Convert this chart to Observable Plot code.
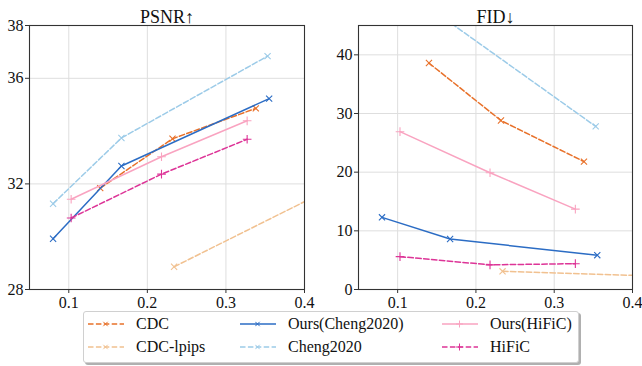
<!DOCTYPE html>
<html>
<head>
<meta charset="utf-8">
<script src="https://cdn.jsdelivr.net/npm/d3@7"></script>
<script src="https://cdn.jsdelivr.net/npm/@observablehq/plot@0.6"></script>
<style>
  html, body { margin: 0; padding: 0; background: #fff; }
  #wrap, #wrap * { font-family: "Liberation Serif", "Times New Roman", Times, serif !important; }
  #wrap { position: relative; width: 642px; height: 366px; }
  #left, #right { position: absolute; top: 0; }
  #left { left: 0; }
  #right { left: 320px; }
  #legend { position: absolute; left: 83px; top: 311px; width: 496px; height: 52px; box-sizing: border-box;
    border: 1px solid #d0d0d0; border-radius: 3px; background: #fff; box-shadow: 2px 2px 0 #b0b0b0; }
  .item { position: absolute; display: flex; align-items: center; font-size: 16px; color: #111; }
  .item svg { margin-right: 12px; }
</style>
</head>
<body>
<div id="wrap">
  <div id="left"></div>
  <div id="right"></div>
  <div id="legend"></div>
</div>
<script>
// Series names and styles
const seriesNames = ["CDC", "CDC-lpips", "Ours(Cheng2020)", "Cheng2020", "Ours(HiFiC)", "HiFiC"];
const seriesColors = ["#e8712a", "#f1c190", "#2b6cc4", "#9ccbe8", "#f9a3c0", "#dd3497"];
const seriesDashed = [true, true, false, true, false, true];
const seriesSymbols = ["times", "times", "times", "times", "plus", "plus"];

// bpp (x) values per series
const bppCDC = [0.140, 0.232, 0.338];
const bppCDCLpips = [0.234, 0.45];
const bppOursCheng = [0.080, 0.167, 0.355];
const bppCheng = [0.080, 0.167, 0.353];
const bppOursHiFiC = [0.103, 0.218, 0.327];
const bppHiFiC = [0.103, 0.218, 0.327];

// PSNR values
const psnrCDC = [31.84, 33.71, 34.86];
const psnrCDCLpips = [28.86, 32.07];
const psnrOursCheng = [29.92, 32.68, 35.23];
const psnrCheng = [31.25, 33.74, 36.84];
const psnrOursHiFiC = [31.42, 33.03, 34.39];
const psnrHiFiC = [30.71, 32.37, 33.69];

// FID values
const fidCDC = [38.6, 28.8, 21.8];
const fidCDCLpips = [3.1, 2.2];
const fidOursCheng = [12.3, 8.6, 5.85];
const fidCheng = [60.0, 45.5, 27.8];
const fidOursHiFiC = [26.9, 19.9, 13.7];
const fidHiFiC = [5.6, 4.2, 4.4];

// Ticks
const xTicks = [0.1, 0.2, 0.3, 0.4];
const psnrTicks = [28, 32, 36, 38];
const fidTicks = [0, 10, 20, 30, 40];

const bppAll = [bppCDC, bppCDCLpips, bppOursCheng, bppCheng, bppOursHiFiC, bppHiFiC];
const psnrAll = [psnrCDC, psnrCDCLpips, psnrOursCheng, psnrCheng, psnrOursHiFiC, psnrHiFiC];
const fidAll = [fidCDC, fidCDCLpips, fidOursCheng, fidCheng, fidOursHiFiC, fidHiFiC];

function seriesData(valuesAll) {
  return seriesNames.map((name, i) => bppAll[i].map((x, j) => ({ name, x, y: valuesAll[i][j] })));
}

function seriesMarks(valuesAll) {
  const marks = [];
  seriesData(valuesAll).forEach((data, i) => {
    marks.push(Plot.line(data, { x: "x", y: "y", stroke: seriesColors[i], strokeWidth: 1.5,
      strokeDasharray: seriesDashed[i] ? "5.5,2.4" : null, clip: true }));
    marks.push(Plot.dot(data, { x: "x", y: "y", stroke: seriesColors[i], symbol: seriesSymbols[i],
      r: 2.9, strokeWidth: 1.1, clip: true }));
  });
  return marks;
}

const serif = '"Liberation Serif", "Times New Roman", Times, serif';

function panel({ title, valuesAll, yDomain, yTicks, width, marginLeft, marginRight }) {
  return Plot.plot({
    width, height: 310,
    marginTop: 25, marginBottom: 21, marginLeft, marginRight,
    style: { fontFamily: serif, fontSize: "16px", color: "#111", background: "transparent" },
    x: { domain: [0.05, 0.4] },
    y: { domain: yDomain },
    marks: [
      Plot.gridX(xTicks, { stroke: "#dedede", strokeOpacity: 1, strokeWidth: 1 }),
      Plot.gridY(yTicks, { stroke: "#dedede", strokeOpacity: 1, strokeWidth: 1 }),
      ...seriesMarks(valuesAll),
      Plot.frame({ stroke: "#333", strokeWidth: 1.1 }),
      Plot.axisX(xTicks, { tickSize: 4, tickPadding: 3, stroke: "#333", fontSize: 16, fontFamily: serif, tickFormat: d3.format(".1f"), label: null }),
      Plot.axisY(yTicks, { tickSize: 4, tickPadding: 2, stroke: "#333", fontSize: 16, fontFamily: serif, tickFormat: d => String(d), label: null }),
      Plot.text([title], { frameAnchor: "top", dy: -3, lineAnchor: "bottom", fontSize: 18, fontFamily: serif, fill: "#111" })
    ]
  });
}

document.getElementById("left").appendChild(panel({
  title: "PSNR↑", valuesAll: psnrAll, yDomain: [28, 38], yTicks: psnrTicks,
  width: 320, marginLeft: 29, marginRight: 16
}));
document.getElementById("right").appendChild(panel({
  title: "FID↓", valuesAll: fidAll, yDomain: [0, 45], yTicks: fidTicks,
  width: 322, marginLeft: 38, marginRight: 10
}));

// Legend (matplotlib-style: 3 columns, column-major order)
const legend = document.getElementById("legend");
const colX = [4, 156, 358];
seriesNames.forEach((name, i) => {
  const col = Math.floor(i / 2), row = i % 2;
  const div = document.createElement("div");
  div.className = "item";
  div.style.left = colX[col] + "px";
  div.style.top = (row === 0 ? 3 : 26) + "px";
  const sym = seriesSymbols[i] === "plus"
    ? `<path d="M17.5,1.5V8.5M14,5H21" stroke="${seriesColors[i]}" stroke-width="1"/>`
    : `<path d="M15.3,2.8L19.7,7.2M19.7,2.8L15.3,7.2" stroke="${seriesColors[i]}" stroke-width="1"/>`;
  div.innerHTML = `<svg width="36" height="10"><line x1="0" y1="5" x2="36" y2="5" stroke="${seriesColors[i]}" stroke-width="1.5" ${seriesDashed[i] ? 'stroke-dasharray="5.5,2.4"' : ''}/>${sym}</svg><span>${name}</span>`;
  legend.appendChild(div);
});
</script>
</body>
</html>
